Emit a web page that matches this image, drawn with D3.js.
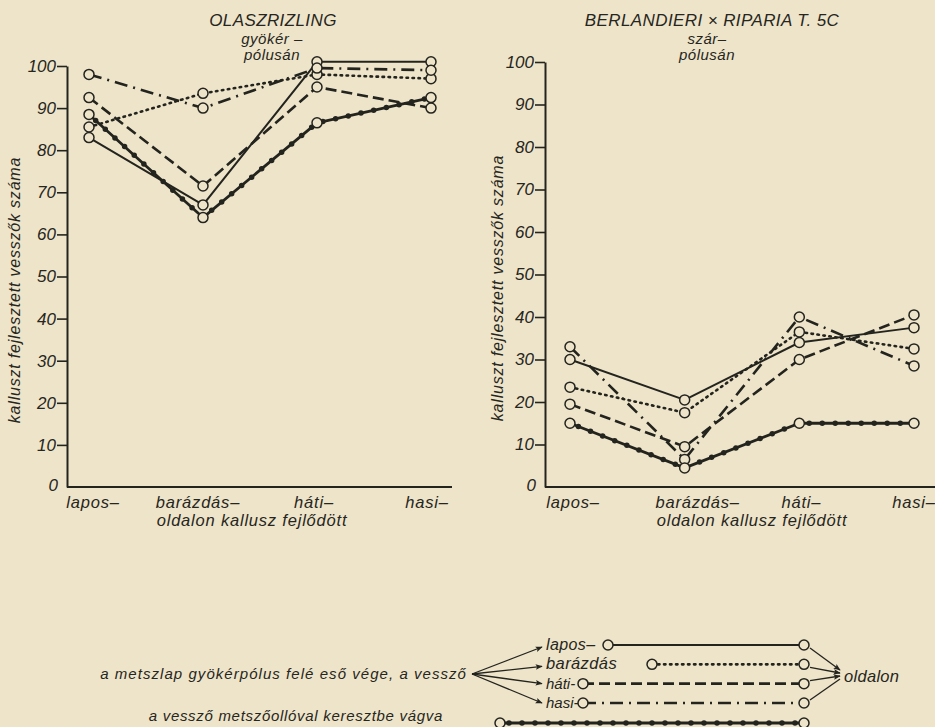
<!DOCTYPE html>
<html>
<head>
<meta charset="utf-8">
<script src="https://cdn.jsdelivr.net/npm/d3@7"></script>
<style>
  body { margin: 0; background: #eee4ca; }
  svg text { font-family: "Liberation Sans", Arial, sans-serif; font-style: italic; fill: #262620; }
</style>
</head>
<body>
<div id="chart"></div>
<script>
// categories (x axis) and tick values
const categories = ["lapos–", "barázdás–", "háti–", "hasi–"];
const yTicks = [0, 10, 20, 30, 40, 50, 60, 70, 80, 90, 100];

// OLASZRIZLING, gyökérpólusán
const olaszLapos    = [83, 67, 101, 101];
const olaszBarazdas = [85.5, 93.5, 98, 97];
const olaszHati     = [92.5, 71.5, 95, 90];
const olaszHasi     = [98, 90, 99.5, 99];
const olaszKereszt  = [88.5, 64, 86.5, 92.5];

// BERLANDIERI x RIPARIA T. 5C, szárpólusán
const berlLapos    = [30, 20.5, 34, 37.5];
const berlBarazdas = [23.5, 17.5, 36.5, 32.5];
const berlHati     = [19.5, 9.5, 30, 40.5];
const berlHasi     = [33, 6.5, 40, 28.5];
const berlKereszt  = [15, 4.5, 15, 15];

// legend labels
const legendNames = ["lapos–", "barázdás", "háti-", "hasi-"];

const ink = "#24241e";
const paper = "#eee4ca";

// line style per series (order: lapos, barázdás, háti, hasi, kereszt)
const styles = [
    { dash: null, width: 2 },
    { dash: "1.5 4.5", width: 2.6, cap: "round" },
    { dash: "11 5", width: 2.6 },
    { dash: "13 6 2 6", width: 2.6 },
    { dash: null, width: 2.8, dots: true }
];

const W = 935, H = 727;
let svg = d3.select("#chart")
    .append("svg")
    .attr("width", W)
    .attr("height", H);

svg.append("rect")
    .attr("width", W)
    .attr("height", H)
    .attr("fill", paper);

// arrow head
svg.append("defs").append("marker")
    .attr("id", "arrow")
    .attr("viewBox", "0 -5 10 10")
    .attr("refX", 9)
    .attr("refY", 0)
    .attr("markerWidth", 9)
    .attr("markerHeight", 7)
    .attr("markerUnits", "userSpaceOnUse")
    .attr("orient", "auto")
    .append("path")
    .attr("d", "M0,-4L10,0L0,4L2,0Z")
    .attr("fill", ink);

function drawSeriesLine(g, pts, st) {
    let line = d3.line().x(d => d[0]).y(d => d[1]);
    let p = g.append("path")
        .attr("d", line(pts))
        .attr("fill", "none")
        .attr("stroke", ink)
        .attr("stroke-width", st.width)
        .attr("stroke-linejoin", "round");
    if (st.dash) p.attr("stroke-dasharray", st.dash);
    if (st.cap) p.attr("stroke-linecap", st.cap);
    if (st.dots) {
        // the small filled beads along the crosscut line
        g.append("path")
            .attr("d", line(pts))
            .attr("fill", "none")
            .attr("stroke", ink)
            .attr("stroke-width", 5.5)
            .attr("stroke-linecap", "round")
            .attr("stroke-dasharray", "0 13")
            .attr("stroke-dashoffset", -9);
    }
}

function drawCircle(g, x, y) {
    g.append("circle")
        .attr("cx", x)
        .attr("cy", y)
        .attr("r", 5)
        .attr("fill", paper)
        .attr("stroke", ink)
        .attr("stroke-width", 1.5);
}

function drawPanel(opt) {
    let g = svg.append("g");

    let x = d3.scalePoint().domain(categories).range(opt.xPoints);
    let y = d3.scaleLinear().domain([0, 100]).range(opt.yRange);

    // y axis
    let yAxis = g.append("g")
        .attr("transform", `translate(${opt.axisX},0)`)
        .call(d3.axisLeft(y).tickValues(yTicks).tickSize(10).tickPadding(1).tickSizeOuter(0));
    yAxis.select(".domain").attr("stroke", ink).attr("stroke-width", 2);
    yAxis.selectAll(".tick line").attr("stroke", ink).attr("stroke-width", 1.6);
    yAxis.selectAll(".tick text")
        .attr("font-size", 17)
        .attr("font-family", "Liberation Sans")
        .attr("font-style", "italic")
        .attr("fill", ink);
    // zero has no tick mark
    yAxis.selectAll(".tick").filter(d => d === 0).select("line").remove();
    yAxis.selectAll(".tick").filter(d => d === 0).select("text").attr("x", -9).attr("dy", "0.2em");

    // x axis line
    g.append("line")
        .attr("x1", opt.axisX).attr("x2", opt.axisEnd)
        .attr("y1", y(0)).attr("y2", y(0))
        .attr("stroke", ink).attr("stroke-width", 2);

    // category labels
    g.selectAll(".cat")
        .data(categories)
        .enter().append("text")
        .attr("x", (d, i) => x(d) + opt.labelShift[i])
        .attr("y", y(0) + 21)
        .attr("text-anchor", "middle")
        .attr("font-size", 16.5)
        .attr("letter-spacing", 0.8)
        .text(d => d);
    g.append("text")
        .attr("x", opt.subX)
        .attr("y", y(0) + 39)
        .attr("text-anchor", "middle")
        .attr("font-size", 16.5)
        .attr("letter-spacing", 0.8)
        .text("oldalon kallusz fejlődött");

    // y axis title
    g.append("text")
        .attr("transform", `translate(${opt.titleX},${opt.titleY}) rotate(-90)`)
        .attr("text-anchor", "middle")
        .attr("font-size", 16)
        .attr("letter-spacing", 0.8)
        .text("kalluszt fejlesztett vesszők száma");

    // panel heading
    g.append("text")
        .attr("x", opt.headX).attr("y", 26)
        .attr("text-anchor", "middle")
        .attr("font-size", 17)
        .attr("letter-spacing", 0.4)
        .text(opt.heading);
    opt.sub.forEach((s, i) => {
        g.append("text")
            .attr("x", opt.subHeadX).attr("y", 44 + i * 16)
            .attr("text-anchor", "middle")
            .attr("font-size", 15)
            .attr("letter-spacing", 0.5)
            .text(s);
    });

    // series
    opt.series.forEach((vals, i) => {
        let pts = vals.map((v, j) => [x(categories[j]), y(v)]);
        drawSeriesLine(g, pts, styles[i]);
    });
    opt.series.forEach(vals => {
        vals.forEach((v, j) => drawCircle(g, x(categories[j]), y(v)));
    });
}

drawPanel({
    xPoints: [89, 431], yRange: [487, 66], axisX: 67, axisEnd: 452,
    labelShift: [4, -5, -3, -4], subX: 252, titleX: 20, titleY: 290,
    heading: "OLASZRIZLING", headX: 273, sub: ["gyökér –", "pólusán"], subHeadX: 272,
    series: [olaszLapos, olaszBarazdas, olaszHati, olaszHasi, olaszKereszt]
});

drawPanel({
    xPoints: [570, 914], yRange: [487, 62], axisX: 545, axisEnd: 935,
    labelShift: [3, 13, 2, 0], subX: 752, titleX: 503, titleY: 288,
    heading: "BERLANDIERI × RIPARIA  T. 5C", headX: 712, sub: ["szár–", "pólusán"], subHeadX: 707,
    series: [berlLapos, berlBarazdas, berlHati, berlHasi, berlKereszt]
});

// legend
let lg = svg.append("g");
let legendY = d3.scalePoint().domain(legendNames).range([645, 703]);
let lineStart = [608, 652, 583, 583];
let lineEnd = 804;
let legendFont = [16, 16.5, 15, 15];

legendNames.forEach((name, i) => {
    let yy = legendY(name);
    lg.append("text")
        .attr("x", 546).attr("y", yy + 5)
        .attr("font-size", legendFont[i])
        .attr("letter-spacing", i < 2 ? 0.4 : 0)
        .text(name);
    drawSeriesLine(lg, [[lineStart[i], yy], [lineEnd, yy]], styles[i]);
    drawCircle(lg, lineStart[i], yy);
    drawCircle(lg, lineEnd, yy);
    // fan arrows in
    lg.append("line")
        .attr("x1", 472).attr("y1", 674)
        .attr("x2", 542).attr("y2", yy + (i < 2 ? 2 : 0))
        .attr("stroke", ink).attr("stroke-width", 1.3)
        .attr("marker-end", "url(#arrow)");
    // arrows out to "oldalon"
    lg.append("line")
        .attr("x1", 810).attr("y1", yy + (i < 2 ? 3 : -3))
        .attr("x2", 840).attr("y2", 670 + i * 3)
        .attr("stroke", ink).attr("stroke-width", 1.3)
        .attr("marker-end", i < 3 ? "url(#arrow)" : null);
});
lg.append("text")
    .attr("x", 844).attr("y", 682)
    .attr("font-size", 16.5)
    .attr("letter-spacing", 0.3)
    .text("oldalon");
lg.append("text")
    .attr("x", 467).attr("y", 679)
    .attr("text-anchor", "end")
    .attr("font-size", 15)
    .attr("letter-spacing", 1.05)
    .text("a metszlap gyökérpólus felé eső vége, a vessző");
lg.append("text")
    .attr("x", 443).attr("y", 721)
    .attr("text-anchor", "end")
    .attr("font-size", 15)
    .attr("letter-spacing", 0.7)
    .text("a vessző metszőollóval keresztbe vágva");
let crossY = 723;
drawSeriesLine(lg, [[500, crossY], [lineEnd, crossY]], styles[4]);
drawCircle(lg, 500, crossY);
drawCircle(lg, lineEnd, crossY);
</script>
</body>
</html>
